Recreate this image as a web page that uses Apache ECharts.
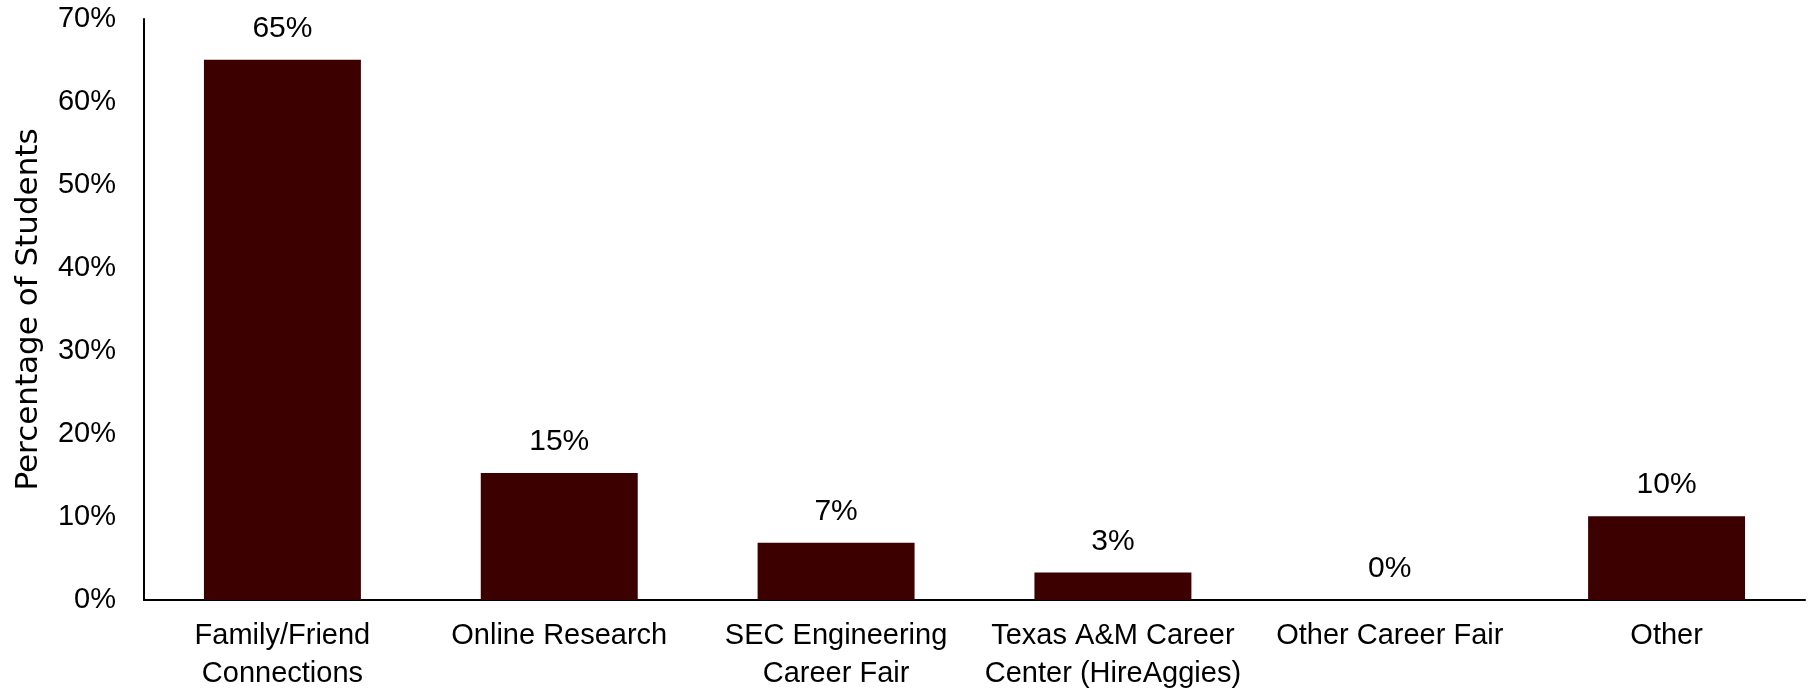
<!DOCTYPE html>
<html>
<head>
<meta charset="utf-8">
<script src="https://cdn.jsdelivr.net/npm/echarts@6/dist/echarts.min.js"></script>
<style>
html,body{margin:0;padding:0;background:#fff;}
#chart{width:1808px;height:693px;}
</style>
</head>
<body>
<div id="chart"></div>
<script>
const categories = [
  'Family/Friend\nConnections',
  'Online Research',
  'SEC Engineering\nCareer Fair',
  'Texas A&M Career\nCenter (HireAggies)',
  'Other Career Fair',
  'Other'
];
const values = [65.1, 15.3, 6.9, 3.3, 0, 10.1];
const yTicks = { min: 0, max: 70, interval: 10 };
const axisTitle = 'Percentage of Students';

const chart = echarts.init(document.getElementById('chart'), null, { renderer: 'canvas' });
chart.setOption({
  backgroundColor: '#ffffff',
  animation: false,
  grid: { left: 144, right: 3, top: 19, bottom: 93, containLabel: false, outerBoundsMode: 'none' },
  xAxis: {
    type: 'category',
    data: categories,
    axisLine: { show: true, lineStyle: { color: '#000', width: 2 } },
    axisTick: { show: false },
    axisLabel: {
      color: '#000',
      fontFamily: 'Liberation Sans, Arial, sans-serif',
      fontSize: 29,
      lineHeight: 38,
      margin: 17,
      interval: 0
    }
  },
  yAxis: {
    type: 'value',
    min: yTicks.min,
    max: yTicks.max,
    interval: yTicks.interval,
    name: axisTitle,
    nameLocation: 'middle',
    nameRotate: 90,
    nameGap: 100,
    nameTextStyle: {
      color: '#000',
      fontFamily: 'DejaVu Sans, sans-serif',
      fontSize: 31
    },
    axisLine: { show: true, lineStyle: { color: '#000', width: 2 } },
    axisTick: { show: false },
    splitLine: { show: false },
    axisLabel: {
      color: '#000',
      fontFamily: 'Liberation Sans, Arial, sans-serif',
      fontSize: 29,
      margin: 28,
      formatter: '{value}%'
    }
  },
  series: [{
    type: 'bar',
    data: values,
    barWidth: '56.7%',
    itemStyle: { color: '#3c0000' },
    label: {
      show: true,
      position: 'top',
      distance: 16,
      color: '#000',
      fontFamily: 'Liberation Sans, Arial, sans-serif',
      fontSize: 30,
      formatter: p => Math.round(p.value) + '%'
    }
  }]
});
</script>
</body>
</html>
